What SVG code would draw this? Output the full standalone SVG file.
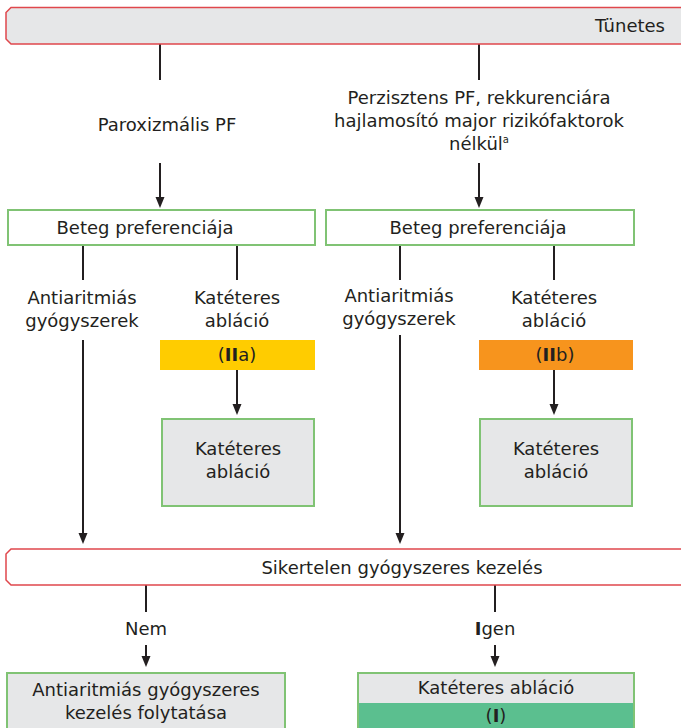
<svg xmlns="http://www.w3.org/2000/svg" width="681" height="728" viewBox="0 0 681 728">
  <style>
    text { font-family: "DejaVu Sans", "Liberation Sans", sans-serif; font-size: 18px; fill: #231f20; text-anchor: middle; }
    .banner { stroke: #e0474c; stroke-width: 1.5; }
    .gbox { stroke: #80c374; stroke-width: 2; }
    .grey { fill: #e6e7e8; }
    .line { stroke: #231f20; stroke-width: 2; fill: none; }
    .head { fill: #231f20; }
    .b { font-weight: bold; }
  </style>

  <!-- connectors: stems and filled arrowheads -->
  <g id="connectors">
    <line class="line" x1="160" y1="44" x2="160" y2="80"/>
    <line class="line" x1="479" y1="44" x2="479" y2="80"/>
    <path d="M160,163 V200" class="line"/>
    <path class="head" d="M155.5,197 L164.5,197 L160,208 Z"/>
    <path d="M479,163 V200" class="line"/>
    <path class="head" d="M474.5,197 L483.5,197 L479,208 Z"/>

    <line class="line" x1="83" y1="245" x2="83" y2="280"/>
    <line class="line" x1="237" y1="245" x2="237" y2="280"/>
    <line class="line" x1="400" y1="245" x2="400" y2="280"/>
    <line class="line" x1="554" y1="245" x2="554" y2="280"/>

    <path d="M237,370 V406" class="line"/>
    <path class="head" d="M232.5,404 L241.5,404 L237,415 Z"/>
    <path d="M554,370 V406" class="line"/>
    <path class="head" d="M549.5,404 L558.5,404 L554,415 Z"/>

    <path d="M83,340 V535" class="line"/>
    <path class="head" d="M78.5,533 L87.5,533 L83,544 Z"/>
    <path d="M400,335 V535" class="line"/>
    <path class="head" d="M395.5,533 L404.5,533 L400,544 Z"/>

    <line class="line" x1="146" y1="585" x2="146" y2="612"/>
    <line class="line" x1="495" y1="585" x2="495" y2="612"/>
    <path d="M146,645 V658" class="line"/>
    <path class="head" d="M141.5,656 L150.5,656 L146,667 Z"/>
    <path d="M495,645 V658" class="line"/>
    <path class="head" d="M490.5,656 L499.5,656 L495,667 Z"/>
  </g>

  <!-- top banner -->
  <g id="tunetes">
    <path class="banner grey" d="M690,7.5 H11 L6,12.5 V39 L11,44 H690 Z"/>
    <text x="665" y="32" style="text-anchor:end">Tünetes</text>
  </g>

  <g id="paroxizmalis">
    <text x="167" y="131">Paroxizmális PF</text>
  </g>

  <g id="perzisztens">
    <text x="479" y="104">Perzisztens PF, rekkurenciára</text>
    <text x="479" y="127">hajlamosító major rizikófaktorok</text>
    <text x="479" y="150">nélkül<tspan font-size="10" dy="-7">a</tspan></text>
  </g>

  <g id="pref-left">
    <rect class="gbox" x="8" y="210" width="307" height="35" fill="#fff"/>
    <text x="145" y="234">Beteg preferenciája</text>
  </g>
  <g id="pref-right">
    <rect class="gbox" x="326" y="210" width="308" height="35" fill="#fff"/>
    <text x="478" y="234">Beteg preferenciája</text>
  </g>

  <g id="aad-left">
    <text x="82" y="304">Antiaritmiás</text>
    <text x="82" y="327">gyógyszerek</text>
  </g>
  <g id="abl-left">
    <text x="237" y="304">Katéteres</text>
    <text x="237" y="327">abláció</text>
  </g>
  <g id="aad-right">
    <text x="399" y="302">Antiaritmiás</text>
    <text x="399" y="325">gyógyszerek</text>
  </g>
  <g id="abl-right">
    <text x="554" y="304">Katéteres</text>
    <text x="554" y="327">abláció</text>
  </g>

  <g id="class-iia">
    <rect x="160" y="340" width="155" height="30" fill="#ffcc00"/>
    <text x="237" y="361">(<tspan class="b">II</tspan>a)</text>
  </g>
  <g id="class-iib">
    <rect x="479" y="340" width="154" height="30" fill="#f7941d"/>
    <text x="555" y="361">(<tspan class="b">II</tspan>b)</text>
  </g>

  <g id="ablacio-left">
    <rect class="gbox grey" x="162" y="419" width="152" height="87"/>
    <text x="238" y="455">Katéteres</text>
    <text x="238" y="478">abláció</text>
  </g>
  <g id="ablacio-right">
    <rect class="gbox grey" x="480" y="419" width="152" height="87"/>
    <text x="556" y="455">Katéteres</text>
    <text x="556" y="478">abláció</text>
  </g>

  <!-- failed drug therapy banner -->
  <g id="sikertelen">
    <path class="banner" fill="#fff" d="M690,549 H11 L6,554 V580 L11,585 H690 Z"/>
    <text x="402" y="574">Sikertelen gyógyszeres kezelés</text>
  </g>

  <g id="nem">
    <text x="146" y="635">Nem</text>
  </g>
  <g id="igen">
    <text x="495" y="635"><tspan class="b">I</tspan>gen</text>
  </g>

  <g id="folytatas">
    <rect class="gbox grey" x="7" y="673" width="278" height="70"/>
    <text x="146" y="696">Antiaritmiás gyógyszeres</text>
    <text x="146" y="719">kezelés folytatása</text>
  </g>

  <g id="ablacio-i">
    <rect class="gbox grey" x="358" y="673" width="276" height="70"/>
    <rect x="359" y="703" width="274" height="40" fill="#5bbf8f"/>
    <text x="496" y="694">Katéteres abláció</text>
    <text x="496" y="722">(<tspan class="b">I</tspan>)</text>
  </g>
</svg>
